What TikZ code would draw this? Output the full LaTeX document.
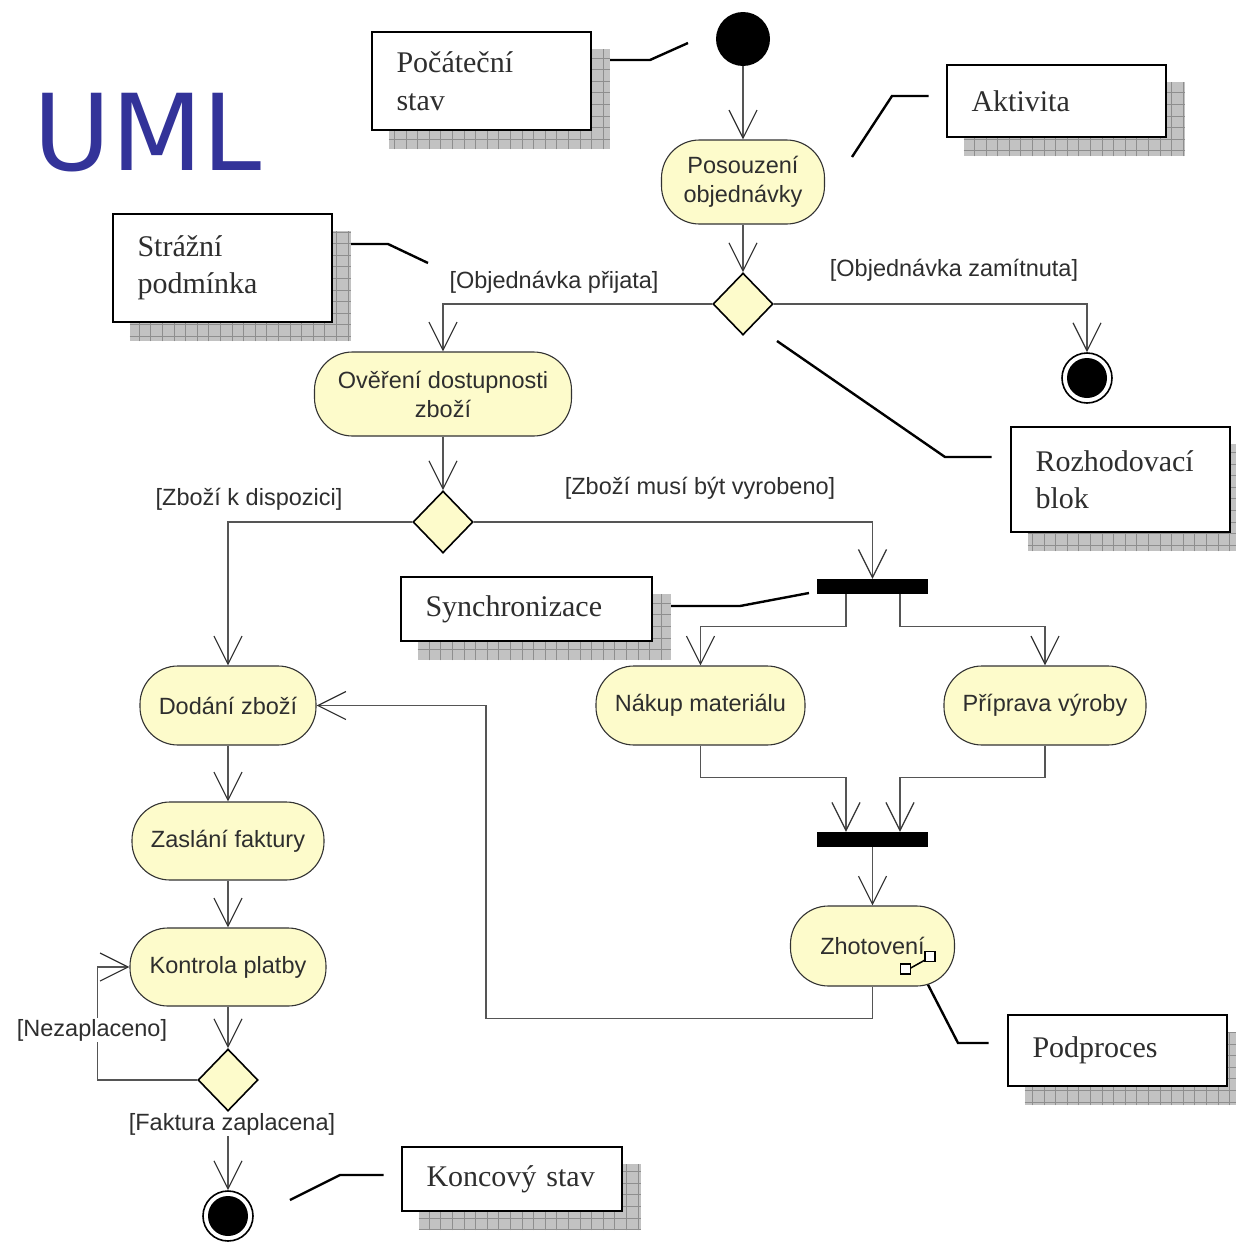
\documentclass[tikz,border=0pt]{standalone}
\usepackage{fontspec}
\usetikzlibrary{arrows.meta,shapes.geometric,calc}
\newfontfamily\actf{Liberation Sans}
\newfontfamily\callf{Liberation Serif}
\newfontfamily\umlf{DejaVu Sans}
\definecolor{actfill}{HTML}{FDFBCB}
\definecolor{linec}{HTML}{555555}
\definecolor{tipc}{HTML}{333333}
\definecolor{txtc}{HTML}{2E2E2E}
\definecolor{umlc}{HTML}{333399}
\definecolor{shadc}{HTML}{C2C2C2}
\definecolor{gridc}{HTML}{8E8E8E}
\pgfdeclarelayer{lead}
\pgfdeclarelayer{shad}
\pgfsetlayers{lead,shad,main}
\begin{document}
\begin{tikzpicture}[x=1pt,y=-1pt,
 >={Straight Barb[length=28pt,width=28pt,color=tipc]},
 act/.style={draw=black!80, line width=1.1pt, fill=actfill, rounded corners=38pt, inner sep=0pt, align=center, text=txtc, font=\actf\fontsize{23.5}{29}\selectfont},
 flow/.style={draw=linec, line width=1.2pt, ->},
 guard/.style={text=txtc, font=\actf\fontsize{23.5}{28}\selectfont, inner sep=1.5pt},
 dec/.style={diamond, draw=black, line width=1.6pt, fill=actfill, minimum width=60pt, minimum height=62pt, inner sep=0pt},
 syncbar/.style={rectangle, fill=black, minimum width=111pt, minimum height=15pt, inner sep=0pt},
 initst/.style={circle, fill=black, minimum size=54pt, inner sep=0pt},
 finst/.style={circle, draw=black, line width=1.6pt, fill=white, minimum size=50pt, inner sep=0pt, path picture={\fill[black] (path picture bounding box.center) circle (20pt);}},
 callout/.style={rectangle, draw=black, line width=2.6pt, fill=white, inner xsep=23pt, inner ysep=0pt, align=left, text=txtc, font=\callf\fontsize{30}{37.5}\selectfont},
 leader/.style={draw=black, line width=2.4pt},
 iconsq/.style={draw=black, line width=1.5pt, fill=white},
 shadowgrid/.style={draw=gridc, line width=0.7pt, xstep=11.6pt, ystep=11.6pt}
]
\useasboundingbox (0,0) rectangle (1235,1242);

% title
\node[text=umlc, font=\umlf\fontsize{106}{118}\selectfont, inner sep=0pt] (uml) at (147.5,133) {UML};

% activity diagram nodes
\node[initst] (ini) at (743,39) {};
\node[act, minimum width=163pt, minimum height=84pt] (pos) at (743,182) {Posouzení\\objednávky};
\node[dec] (d1) at (743,304) {};
\node[finst] (f1) at (1087,378) {};
\node[act, minimum width=257pt, minimum height=84pt] (ov) at (443,394) {Ověření dostupnosti\\zboží};
\node[dec] (d2) at (443,522) {};
\node[syncbar] (fk) at (872.5,586.5) {};
\node[act, minimum width=176pt, minimum height=79pt] (dod) at (228,705.5) {Dodání zboží};
\node[act, minimum width=209pt, minimum height=79pt] (nak) at (700.5,705.5) {Nákup materiálu};
\node[act, minimum width=202pt, minimum height=79pt] (pri) at (1045,705.5) {Příprava výroby};
\node[syncbar] (jn) at (872.5,839.5) {};
\node[act, minimum width=164pt, minimum height=80pt] (zh) at (872.5,946) {Zhotovení};
\node[act, minimum width=192pt, minimum height=78pt] (zas) at (228,841) {Zaslání faktury};
\node[act, minimum width=196pt, minimum height=78pt] (ko) at (228,967) {Kontrola platby};
\node[dec] (d3) at (228,1080) {};
\node[finst] (f2) at (228,1216) {};

% subprocess icon
\draw[iconsq] ($(zh.center)+(28.2,18)$) rectangle ++(10,10);
\draw[iconsq] ($(zh.center)+(52.5,5.7)$) rectangle ++(10,10);
\draw[black, line width=1.5pt] ($(zh.center)+(38.2,22)$) -- ($(zh.center)+(52.5,14)$);

% connectors
\draw[flow] (ini.south) -- (pos.north);
\draw[flow] (pos.south) -- (d1.north);
\draw[flow] (d1.west) -| (ov.north);
\draw[flow] (d1.east) -| (f1.north);
\draw[flow] (ov.south) -- (d2.north);
\draw[flow] (d2.west) -| (dod.north);
\draw[flow] (d2.east) -| (fk.north);
\draw[flow] ([xshift=-26.5pt]fk.south) -- ++(0,32) -| (nak.north);
\draw[flow] ([xshift=27.5pt]fk.south) -- ++(0,32) -| (pri.north);
\draw[flow] (nak.south) -- ++(0,32) -| ([xshift=-26.5pt]jn.north);
\draw[flow] (pri.south) -- ++(0,32) -| ([xshift=27.5pt]jn.north);
\draw[flow] (jn.south) -- (zh.north);
\draw[flow] (zh.south) -- ++(0,32) -- ++(-386.5,0) |- (dod.east);
\draw[flow] (dod.south) -- (zas.north);
\draw[flow] (zas.south) -- (ko.north);
\draw[flow] (ko.south) -- (d3.north);
\draw[flow] (d3.west) -- ++(-100,0) |- (ko.west);
\draw[flow] (d3.south) -- (f2.north);

% guard labels
\node[guard] (g1) at (554,282) {[Objednávka přijata]};
\node[guard] (g2) at (954,270) {[Objednávka zamítnuta]};
\node[guard] (g3) at (249,499) {[Zboží k dispozici]};
\node[guard] (g4) at (700,488) {[Zboží musí být vyrobeno]};
\node[guard, fill=white] (g5) at (92,1030) {[Nezaplaceno]};
\node[guard, fill=white] (g6) at (232,1124) {[Faktura zaplacena]};

% callouts
\node[callout, minimum width=219pt, minimum height=98pt, text width=170pt] (pc) at (481.5,81) {Počáteční\\stav};
\node[callout, minimum width=219pt, minimum height=72pt, text width=170pt] (ak) at (1056.5,101) {Aktivita};
\node[callout, minimum width=219pt, minimum height=108pt, text width=170pt] (sp) at (222.5,268) {Strážní\\podmínka};
\node[callout, minimum width=219pt, minimum height=105pt, text width=170pt] (rb) at (1120.5,479.5) {Rozhodovací\\blok};
\node[callout, minimum width=251pt, minimum height=64pt, text width=202pt] (sy) at (526.5,609) {Synchronizace};
\node[callout, minimum width=219pt, minimum height=71pt, text width=170pt] (pp) at (1117.5,1050.5) {Podproces};
\node[callout, minimum width=220pt, minimum height=64pt, text width=171pt] (ks) at (512,1179) {Koncový stav};

% leader coordinates
\coordinate (pcA) at (650,60);   \coordinate (pcB) at (688,43);
\coordinate (akA) at (892,96);   \coordinate (akB) at (852,157);
\coordinate (spA) at (388,244);  \coordinate (spB) at (428,263);
\coordinate (rbA) at (945,457);  \coordinate (rbB) at (777,341);
\coordinate (syA) at (740,606);  \coordinate (syB) at (809,593);
\coordinate (ppA) at (958,1043); \coordinate (ppB) at (923,975);
\coordinate (ksA) at (340,1175); \coordinate (ksB) at (290,1200);

\begin{pgfonlayer}{lead}
\fill[white] (0,0) rectangle (1235,1242);
\draw[leader] (pc.east |- pcA) -- (pcA) -- (pcB);
\draw[leader] ($(ak.west |- akA)+(-17,0)$) -- (akA) -- (akB);
\draw[leader] (sp.east |- spA) -- (spA) -- (spB);
\draw[leader] ($(rb.west |- rbA)+(-18,0)$) -- (rbA) -- (rbB);
\draw[leader] (sy.east |- syA) -- (syA) -- (syB);
\draw[leader] ($(pp.west |- ppA)+(-18,0)$) -- (ppA) -- (ppB);
\draw[leader] ($(ks.west |- ksA)+(-17,0)$) -- (ksA) -- (ksB);
\end{pgfonlayer}

\begin{pgfonlayer}{shad}
\foreach \n in {pc,ak,sp,rb,sy,pp,ks}{
  \fill[shadc] ($(\n.south west)+(18,18)$) rectangle ($(\n.north east)+(18,18)$);
  \draw[shadowgrid] ($(\n.south west)+(18,18)$) grid ($(\n.north east)+(18,18)$);
}
\end{pgfonlayer}
\end{tikzpicture}
\end{document}
